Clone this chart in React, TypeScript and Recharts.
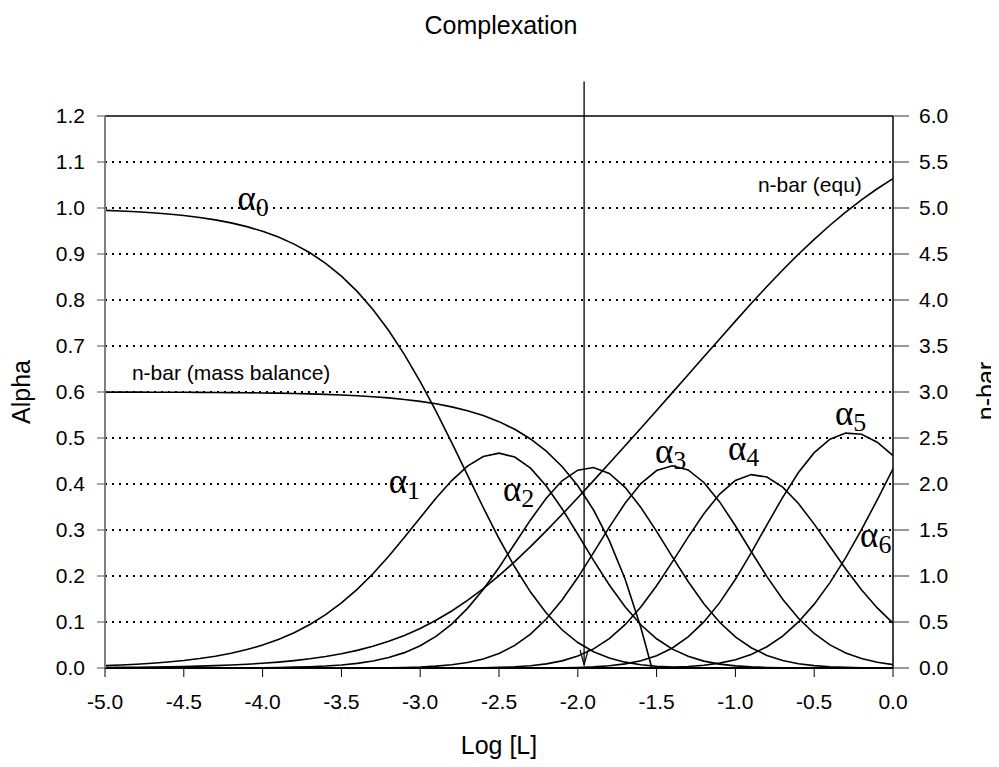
import { LineChart, Line, XAxis, YAxis, CartesianGrid, ReferenceLine, ReferenceDot } from 'recharts';

// log [L] from -5.0 to 0.0 in steps of 0.1
const logL = [
  -5.0, -4.9, -4.8, -4.7, -4.6, -4.5, -4.4, -4.3, -4.2, -4.1,
  -4.0, -3.9, -3.8, -3.7, -3.6, -3.5, -3.4, -3.3, -3.2, -3.1,
  -3.0, -2.9, -2.8, -2.7, -2.6, -2.5, -2.4, -2.3, -2.2, -2.1,
  -2.0, -1.9, -1.8, -1.7, -1.6, -1.5, -1.4, -1.3, -1.2, -1.1,
  -1.0, -0.9, -0.8, -0.7, -0.6, -0.5, -0.4, -0.3, -0.2, -0.1, 0.0,
];

const alpha0 = [
  0.9948, 0.9934, 0.9917, 0.9896, 0.9869, 0.9836, 0.9794, 0.9742, 0.9677, 0.9595,
  0.9494, 0.9369, 0.9215, 0.9027, 0.8797, 0.8519, 0.8187, 0.7794, 0.7337, 0.6814,
  0.6227, 0.5584, 0.4899, 0.4193, 0.3489, 0.2815, 0.2195, 0.1651, 0.1195, 0.0831,
  0.0554, 0.0354, 0.0217, 0.0127, 0.0071, 0.0038, 0.0020, 0.0010, 0.0005, 0.0002,
  0.0001, 0, 0, 0, 0, 0, 0, 0, 0, 0, 0,
];

const alpha1 = [
  0.0052, 0.0066, 0.0082, 0.0104, 0.0130, 0.0163, 0.0205, 0.0256, 0.0320, 0.0400,
  0.0498, 0.0619, 0.0767, 0.0945, 0.1160, 0.1414, 0.1711, 0.2050, 0.2430, 0.2840,
  0.3268, 0.3689, 0.4075, 0.4390, 0.4599, 0.4671, 0.4586, 0.4343, 0.3957, 0.3463,
  0.2908, 0.2340, 0.1804, 0.1331, 0.0940, 0.0635, 0.0410, 0.0254, 0.0150, 0.0085,
  0.0046, 0.0024, 0.0012, 0.0006, 0.0003, 0.0001, 0, 0, 0, 0, 0,
];

const alpha2 = [
  0, 0, 0, 0, 0, 0.0001, 0.0001, 0.0002, 0.0003, 0.0005,
  0.0007, 0.0012, 0.0018, 0.0028, 0.0043, 0.0066, 0.0101, 0.0152, 0.0227, 0.0334,
  0.0483, 0.0687, 0.0955, 0.1296, 0.1709, 0.2185, 0.2701, 0.3219, 0.3692, 0.4069,
  0.4301, 0.4357, 0.4228, 0.3927, 0.3491, 0.2970, 0.2416, 0.1880, 0.1398, 0.0995,
  0.0676, 0.0440, 0.0274, 0.0164, 0.0094, 0.0052, 0.0028, 0.0014, 0.0007, 0.0003, 0.0002,
];

const alpha3 = [
  0, 0, 0, 0, 0, 0, 0, 0, 0, 0,
  0, 0, 0, 0, 0, 0.0001, 0.0002, 0.0003, 0.0007, 0.0012,
  0.0022, 0.0040, 0.0069, 0.0118, 0.0196, 0.0316, 0.0491, 0.0737, 0.1065, 0.1477,
  0.1966, 0.2507, 0.3063, 0.3582, 0.4009, 0.4292, 0.4396, 0.4306, 0.4033, 0.3611,
  0.3092, 0.2533, 0.1987, 0.1494, 0.1080, 0.0750, 0.0503, 0.0326, 0.0205, 0.0125, 0.0074,
];

const alpha4 = [
  0, 0, 0, 0, 0, 0, 0, 0, 0, 0,
  0, 0, 0, 0, 0, 0, 0, 0, 0, 0,
  0, 0.0001, 0.0001, 0.0003, 0.0007, 0.0013, 0.0026, 0.0049, 0.0089, 0.0155,
  0.0259, 0.0416, 0.0640, 0.0942, 0.1327, 0.1789, 0.2307, 0.2845, 0.3354, 0.3781,
  0.4076, 0.4204, 0.4151, 0.3931, 0.3575, 0.3128, 0.2640, 0.2153, 0.1702, 0.1306, 0.0976,
];

const alpha5 = [
  0, 0, 0, 0, 0, 0, 0, 0, 0, 0,
  0, 0, 0, 0, 0, 0, 0, 0, 0, 0,
  0, 0, 0, 0, 0, 0, 0, 0.0001, 0.0003, 0.0006,
  0.0012, 0.0025, 0.0048, 0.0089, 0.0158, 0.0268, 0.0435, 0.0675, 0.1001, 0.1421,
  0.1928, 0.2504, 0.3113, 0.3711, 0.4249, 0.4681, 0.4973, 0.5107, 0.5081, 0.4909, 0.4618,
];

const alpha6 = [
  0, 0, 0, 0, 0, 0, 0, 0, 0, 0,
  0, 0, 0, 0, 0, 0, 0, 0, 0, 0,
  0, 0, 0, 0, 0, 0, 0, 0, 0, 0,
  0, 0, 0.0001, 0.0002, 0.0004, 0.0008, 0.0016, 0.0032, 0.0059, 0.0106,
  0.0181, 0.0296, 0.0463, 0.0694, 0.1001, 0.1388, 0.1856, 0.2400, 0.3006, 0.3656, 0.4330,
];

// n-bar from the equilibria (right axis)
const nbarEqu = [
  0.0052, 0.0066, 0.0083, 0.0104, 0.0131, 0.0165, 0.0207, 0.0260, 0.0326, 0.0410,
  0.0513, 0.0642, 0.0803, 0.1002, 0.1247, 0.1549, 0.1917, 0.2365, 0.2903, 0.3545,
  0.4303, 0.5186, 0.6200, 0.7343, 0.8634, 1.0041, 1.1569, 1.3193, 1.4904, 1.6683,
  1.8512, 2.0367, 2.2253, 2.4155, 2.6069, 2.7995, 2.9930, 3.1874, 3.3823, 3.5771,
  3.7705, 3.9610, 4.1467, 4.3260, 4.4975, 4.6598, 4.8125, 4.9551, 5.0873, 5.2090, 5.3201,
];

// n-bar from the mass balance, it reaches zero at about -1.53
const massLogL = [
  -5.0, -4.9, -4.8, -4.7, -4.6, -4.5, -4.4, -4.3, -4.2, -4.1,
  -4.0, -3.9, -3.8, -3.7, -3.6, -3.5, -3.4, -3.3, -3.2, -3.1,
  -3.0, -2.9, -2.8, -2.7, -2.6, -2.5, -2.4, -2.3, -2.2, -2.1,
  -2.0, -1.9, -1.8, -1.7, -1.6, -1.53,
];
const nbarMass = [
  2.9991, 2.9988, 2.9985, 2.9981, 2.9976, 2.9969, 2.9961, 2.9950, 2.9937, 2.9921,
  2.9899, 2.9873, 2.9840, 2.9797, 2.9745, 2.9679, 2.9595, 2.9490, 2.9358, 2.9192,
  2.8982, 2.8718, 2.8386, 2.7968, 2.7441, 2.6779, 2.5944, 2.4894, 2.3571, 2.1907,
  1.9810, 1.7172, 1.3850, 0.9668, 0.4403, 0,
];

const crossLogL = -1.96;

const xTicks = [-5, -4.5, -4, -3.5, -3, -2.5, -2, -1.5, -1, -0.5, 0];
const alphaTicks = [0, 0.1, 0.2, 0.3, 0.4, 0.5, 0.6, 0.7, 0.8, 0.9, 1.0, 1.1, 1.2];
const gridValues = [0.1, 0.2, 0.3, 0.4, 0.5, 0.6, 0.7, 0.8, 0.9, 1.0, 1.1];
const nbarTicks = [0, 0.5, 1, 1.5, 2, 2.5, 3, 3.5, 4, 4.5, 5, 5.5, 6];

// label anchors in data units (x = log L, y = alpha)
const alphaLabels = [
  { n: 0, x: -4.16, y: 0.996 },
  { n: 1, x: -3.20, y: 0.381 },
  { n: 2, x: -2.475, y: 0.362 },
  { n: 3, x: -1.51, y: 0.446 },
  { n: 4, x: -1.047, y: 0.452 },
  { n: 5, x: -0.368, y: 0.529 },
  { n: 6, x: -0.209, y: 0.264 },
];

const SANS = '"Liberation Sans", Arial, sans-serif';
const SERIF = '"Liberation Serif", "Times New Roman", serif';

const rows = logL.map((x, i) => ({
  x,
  a0: alpha0[i],
  a1: alpha1[i],
  a2: alpha2[i],
  a3: alpha3[i],
  a4: alpha4[i],
  a5: alpha5[i],
  a6: alpha6[i],
  nEq: nbarEqu[i],
}));

const massRows = massLogL.map((x, i) => ({ x, nMb: nbarMass[i] }));

const fmt = (v: number) => v.toFixed(1);

const alphaLabel = (n: number) => (p: any) => {
  const { x, y } = p.viewBox;
  return (
    <text x={x} y={y} fontFamily={SERIF} fontSize={35} fill="#000">
      α<tspan fontSize={26} dy={6}>{n}</tspan>
    </text>
  );
};

const textLabel = (s: string) => (p: any) => {
  const { x, y } = p.viewBox;
  return (
    <text x={x} y={y} fontFamily={SANS} fontSize={21} fill="#000">
      {s}
    </text>
  );
};

const ArrowLine = (p: any) => {
  const top = Math.min(p.y1, p.y2);
  const bottom = Math.max(p.y1, p.y2) - 3;
  const x = p.x1;
  return (
    <g>
      <line x1={x} y1={top} x2={x} y2={bottom} stroke="#000" strokeWidth={1.3} />
      <path
        d={`M${x - 4},${bottom - 15} L${x},${bottom} L${x + 4},${bottom - 15}`}
        fill="none"
        stroke="#000"
        strokeWidth={1.2}
      />
    </g>
  );
};

const seriesKeys = ['a0', 'a1', 'a2', 'a3', 'a4', 'a5', 'a6'];

export default function App() {
  return (
    <div style={{ position: 'relative', width: 983, height: 751 }}>
      <LineChart
        width={983}
        height={751}
        data={rows}
        margin={{ top: 108, right: 38, bottom: 51, left: 37 }}
      >
        <CartesianGrid
          vertical={false}
          horizontalValues={gridValues}
          stroke="#000"
          strokeWidth={2}
          strokeDasharray="2 5"
        />
        <XAxis
          type="number"
          dataKey="x"
          domain={[-5, 0]}
          ticks={xTicks}
          interval={0}
          allowDataOverflow
          tickFormatter={fmt}
          height={40}
          tickSize={9}
          tickMargin={17}
          tick={{ fontSize: 21, fill: '#000', fontFamily: SANS }}
          axisLine={{ stroke: '#000', strokeWidth: 2 }}
          tickLine={{ stroke: '#000' }}
        />
        <YAxis
          domain={[0, 1.2]}
          ticks={alphaTicks}
          interval={0}
          allowDataOverflow
          tickFormatter={fmt}
          width={60}
          tickSize={8}
          tickMargin={12}
          tick={{ fontSize: 21, fill: '#000', fontFamily: SANS }}
          axisLine={{ stroke: '#808080', strokeWidth: 2 }}
          tickLine={{ stroke: '#555' }}
        />
        <YAxis
          yAxisId="right"
          orientation="right"
          domain={[0, 6]}
          ticks={nbarTicks}
          interval={0}
          allowDataOverflow
          tickFormatter={fmt}
          width={60}
          tickSize={16}
          tickMargin={10}
          tick={{ fontSize: 21, fill: '#000', fontFamily: SANS }}
          axisLine={{ stroke: '#000', strokeWidth: 1.5 }}
          tickLine={{ stroke: '#333' }}
        />
        <ReferenceLine y={1.2} stroke="#000" strokeWidth={1.5} />

        {seriesKeys.map((k) => (
          <Line
            key={k}
            type="linear"
            dataKey={k}
            stroke="#000"
            strokeWidth={1.6}
            dot={false}
            isAnimationActive={false}
          />
        ))}
        <Line
          yAxisId="right"
          type="linear"
          dataKey="nEq"
          stroke="#000"
          strokeWidth={1.6}
          dot={false}
          isAnimationActive={false}
        />
        <Line
          yAxisId="right"
          type="linear"
          data={massRows}
          dataKey="nMb"
          stroke="#000"
          strokeWidth={1.6}
          dot={false}
          isAnimationActive={false}
        />

        <ReferenceLine
          segment={[{ x: crossLogL, y: 0 }, { x: crossLogL, y: 1.275 }]}
          ifOverflow="visible"
          shape={ArrowLine}
        />

        {alphaLabels.map((l) => (
          <ReferenceDot
            key={l.n}
            x={l.x}
            y={l.y}
            r={0}
            stroke="none"
            fill="none"
            label={alphaLabel(l.n)}
          />
        ))}
        <ReferenceDot x={-4.829} y={0.627} r={0} stroke="none" fill="none" label={textLabel('n-bar (mass balance)')} />
        <ReferenceDot x={-0.857} y={1.035} r={0} stroke="none" fill="none" label={textLabel('n-bar (equ)')} />
      </LineChart>

      <svg
        width={983}
        height={751}
        style={{ position: 'absolute', left: 0, top: 0, pointerEvents: 'none', overflow: 'visible' }}
      >
        <text x={493} y={26} textAnchor="middle" fontFamily={SANS} fontSize={25} fill="#000">
          Complexation
        </text>
        <text x={491} y={746} textAnchor="middle" fontFamily={SANS} fontSize={25} fill="#000">
          Log [L]
        </text>
        <text
          x={22}
          y={384}
          textAnchor="middle"
          fontFamily={SANS}
          fontSize={25}
          fill="#000"
          transform="rotate(-90 22 384)"
        >
          Alpha
        </text>
        <text
          x={987}
          y={383}
          textAnchor="middle"
          fontFamily={SANS}
          fontSize={25}
          fill="#000"
          transform="rotate(-90 987 383)"
        >
          n-bar
        </text>
      </svg>
    </div>
  );
}
